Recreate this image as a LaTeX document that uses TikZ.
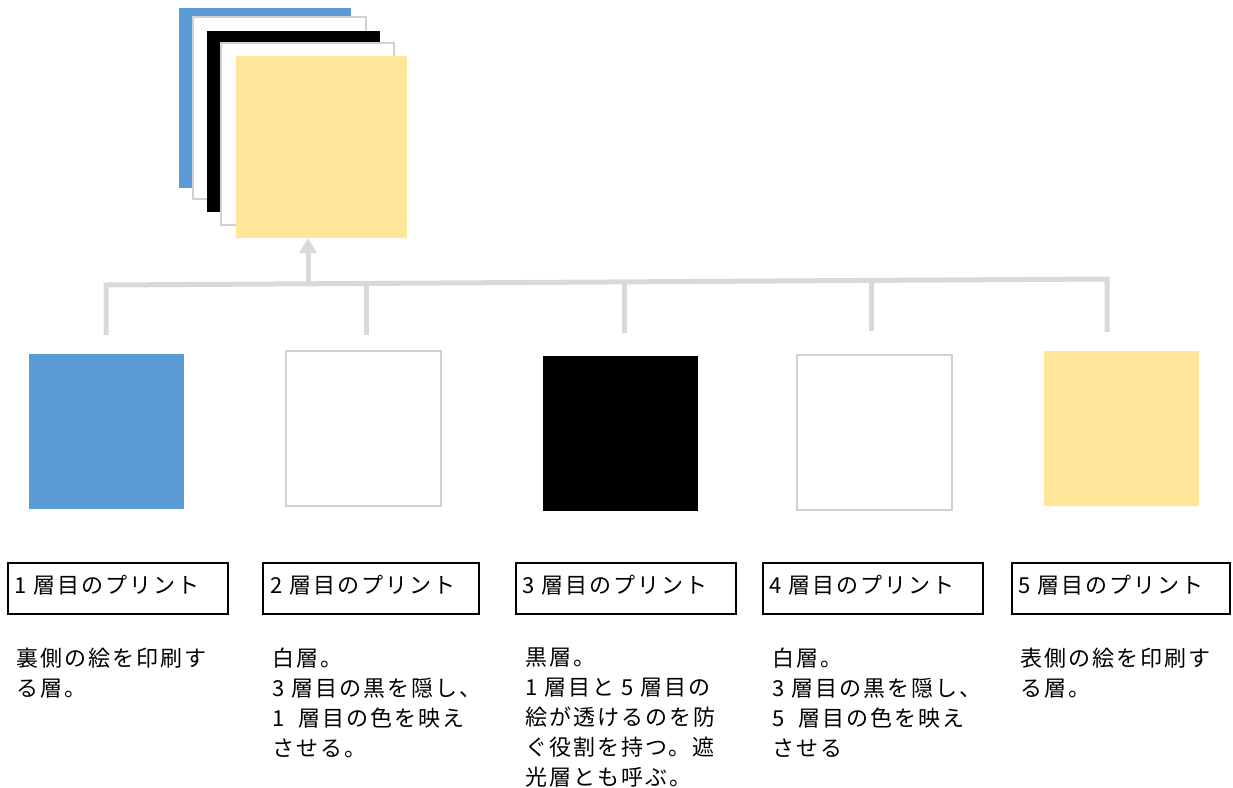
\documentclass[tikz,border=0pt]{standalone}
\usepackage{fontspec}
\usetikzlibrary{arrows.meta}
\newfontfamily\jp[LetterSpace=9]{Noto Sans CJK JP}
\definecolor{lblue}{HTML}{5B9BD5}
\definecolor{lyellow}{HTML}{FFE699}
\definecolor{lgray}{HTML}{D9D9D9}
\definecolor{bgray}{HTML}{D0D0D0}
\begin{document}
\begin{tikzpicture}[x=1pt,y=-1pt,
  sheet/.style={anchor=north west,inner sep=0pt,outer sep=0pt},
  wsheet/.style={sheet,fill=white,draw=bgray,line width=2pt},
  sq/.style={sheet,minimum width=155pt,minimum height=155pt},
  lbl/.style={sheet,draw=black,line width=1.8pt,minimum height=51pt},
  lbltext/.style={anchor=west,inner sep=0pt,font=\jp\fontsize{22}{30}\selectfont},
  desc/.style={anchor=north west,inner sep=0pt,align=left,font=\jp\fontsize{22}{30}\selectfont},
  bus/.style={draw=lgray,line width=5pt}]
\useasboundingbox (0,0) rectangle (1233,787);
% stacked sheets
\node[sheet,fill=lblue,minimum width=172pt,minimum height=180pt] (t1) at (179,8) {};
\node[wsheet,minimum width=173pt,minimum height=182pt] (t2) at (193,17) {};
\node[sheet,fill=black,minimum width=173pt,minimum height=181pt] (t3) at (207,31) {};
\node[wsheet,minimum width=173pt,minimum height=182pt] (t4) at (221,43) {};
\node[sheet,fill=lyellow,minimum width=171pt,minimum height=182pt] (t5) at (236,56) {};
% bottom squares
\node[sq,fill=lblue] (s1) at (29,354) {};
\node[sq,fill=white,draw=bgray,line width=2.5pt] (s2) at (286,351) {};
\node[sq,fill=black] (s3) at (543,356) {};
\node[sq,fill=white,draw=bgray,line width=2.5pt] (s4) at (797,355) {};
\node[sq,fill=lyellow] (s5) at (1044,351) {};
% bus
\coordinate (b1) at (106,335);
\coordinate (b1t) at (106,285);
\coordinate (b5t) at (1107,279);
\coordinate (b5) at (1107,332);
\coordinate (b2t) at (366,283.4);
\coordinate (b2) at (366,335);
\coordinate (b3t) at (624,281.9);
\coordinate (b3) at (624,333);
\coordinate (b4t) at (871,280.4);
\coordinate (b4) at (871,331);
\coordinate (ar) at (308,284);
\draw[bus,line join=miter] (b1) -- (b1t) -- (b5t) -- (b5);
\draw[bus] (b2t) -- (b2);
\draw[bus] (b3t) -- (b3);
\draw[bus] (b4t) -- (b4);
\draw[bus,-{Triangle[width=17pt,length=15pt]}] (ar) -- (ar |- t5.south);
% label boxes
\node[lbl,minimum width=220pt] (l1) at (8,563) {};
\node[lbl,minimum width=216pt] (l2) at (263,563) {};
\node[lbl,minimum width=220pt] (l3) at (516,563) {};
\node[lbl,minimum width=220pt] (l4) at (763,563) {};
\node[lbl,minimum width=218pt] (l5) at (1012,563) {};
\node[lbltext] (lt1) at (14,585) {1 層目のプリント};
\node[lbltext] (lt2) at (270,585) {2 層目のプリント};
\node[lbltext] (lt3) at (522,585) {3 層目のプリント};
\node[lbltext] (lt4) at (769,585) {4 層目のプリント};
\node[lbltext] (lt5) at (1018,585) {5 層目のプリント};
% descriptions
\node[desc] (d1) at (16,648) {裏側の絵を印刷す\\る層。};
\node[desc] (d2) at (272,648) {白層。\\3 層目の黒を隠し、\\1\ \ 層目の色を映え\\させる。};
\node[desc] (d3) at (525,648) {黒層。\\1 層目と 5 層目の\\絵が透けるのを防\\ぐ役割を持つ。遮\\光層とも呼ぶ。};
\node[desc] (d4) at (772,648) {白層。\\3 層目の黒を隠し、\\5\ \ 層目の色を映え\\させる};
\node[desc] (d5) at (1020,648) {表側の絵を印刷す\\る層。};
\end{tikzpicture}
\end{document}
